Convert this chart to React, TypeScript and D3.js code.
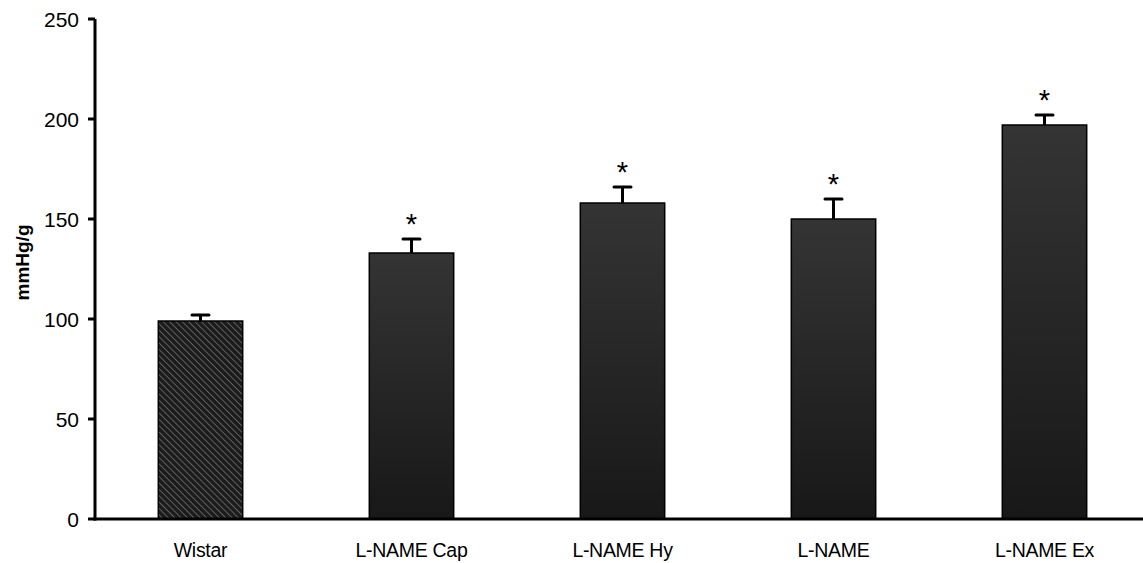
import React from "react";
import * as d3 from "d3";

const categories = ["Wistar", "L-NAME Cap", "L-NAME Hy", "L-NAME", "L-NAME Ex"];
const means = [99, 133, 158, 150, 197];
const errors = [3, 7, 8, 10, 5];
const significant = [false, true, true, true, true];
const yTicks = [0, 50, 100, 150, 200, 250];

const W = 1143;
const H = 563;
const margin = { left: 95, right: -7, top: 19, bottom: 44 };

export default function App() {
  const x = d3
    .scaleBand<string>()
    .domain(categories)
    .range([margin.left, W - margin.right])
    .paddingInner(0.6)
    .paddingOuter(0.3);
  const y = d3.scaleLinear().domain([0, 250]).range([H - margin.bottom, margin.top]);
  const y0 = y(0);
  const font = "Arial, 'Liberation Sans', sans-serif";

  return (
    <svg
      width={W}
      height={H}
      style={{ position: "absolute", left: 0, top: 0, background: "#fff" }}
      fontFamily={font}
    >
      <defs>
        <linearGradient id="barGrad" x1="0" y1="0" x2="0" y2="1">
          <stop offset="0%" stopColor="#343434" />
          <stop offset="100%" stopColor="#181818" />
        </linearGradient>
        <pattern id="hatch" width="4.5" height="4.5" patternUnits="userSpaceOnUse" patternTransform="rotate(-45)">
          <rect width="4.5" height="4.5" fill="#1c1c1c" />
          <line x1="0" y1="0" x2="0" y2="4.5" stroke="#6e6e6e" strokeWidth="1.6" />
        </pattern>
      </defs>

      {categories.map((c, i) => {
        const bx = x(c)!;
        const bw = x.bandwidth();
        const top = y(means[i]);
        const cx = bx + bw / 2;
        const et = y(means[i] + errors[i]);
        return (
          <g key={c}>
            <line x1={cx} x2={cx} y1={top} y2={et} stroke="#000" strokeWidth={3} />
            <line x1={cx - 8.5} x2={cx + 8.5} y1={et} y2={et} stroke="#000" strokeWidth={3} strokeLinecap="round" />
            <rect
              x={bx}
              y={top}
              width={bw}
              height={y0 - top}
              fill={i === 0 ? "url(#hatch)" : "url(#barGrad)"}
              stroke="#000"
              strokeWidth={1.5}
            />
            {significant[i] && (
              <text x={cx} y={et - 5} textAnchor="middle" fontSize={29} fill="#000">
                *
              </text>
            )}
            <text x={cx} y={557} textAnchor="middle" fontSize={19.5} fill="#000" letterSpacing={-0.3}>
              {c}
            </text>
          </g>
        );
      })}

      {/* axes */}
      <line x1={margin.left} x2={margin.left} y1={y(250)} y2={y0 + 1.5} stroke="#000" strokeWidth={3} />
      <line x1={margin.left - 1.5} x2={W} y1={y0} y2={y0} stroke="#000" strokeWidth={3} />
      {yTicks.map((t) => (
        <g key={t}>
          <line x1={margin.left - 7} x2={margin.left} y1={y(t)} y2={y(t)} stroke="#000" strokeWidth={3} />
          <text x={margin.left - 16} y={y(t)} dy="0.36em" textAnchor="end" fontSize={21} fill="#000">
            {t}
          </text>
        </g>
      ))}
      <text
        transform={`translate(29, 262.5) rotate(-90)`}
        textAnchor="middle"
        fontSize={19}
        fontWeight="bold"
        fill="#000"
      >
        mmHg/g
      </text>
    </svg>
  );
}
